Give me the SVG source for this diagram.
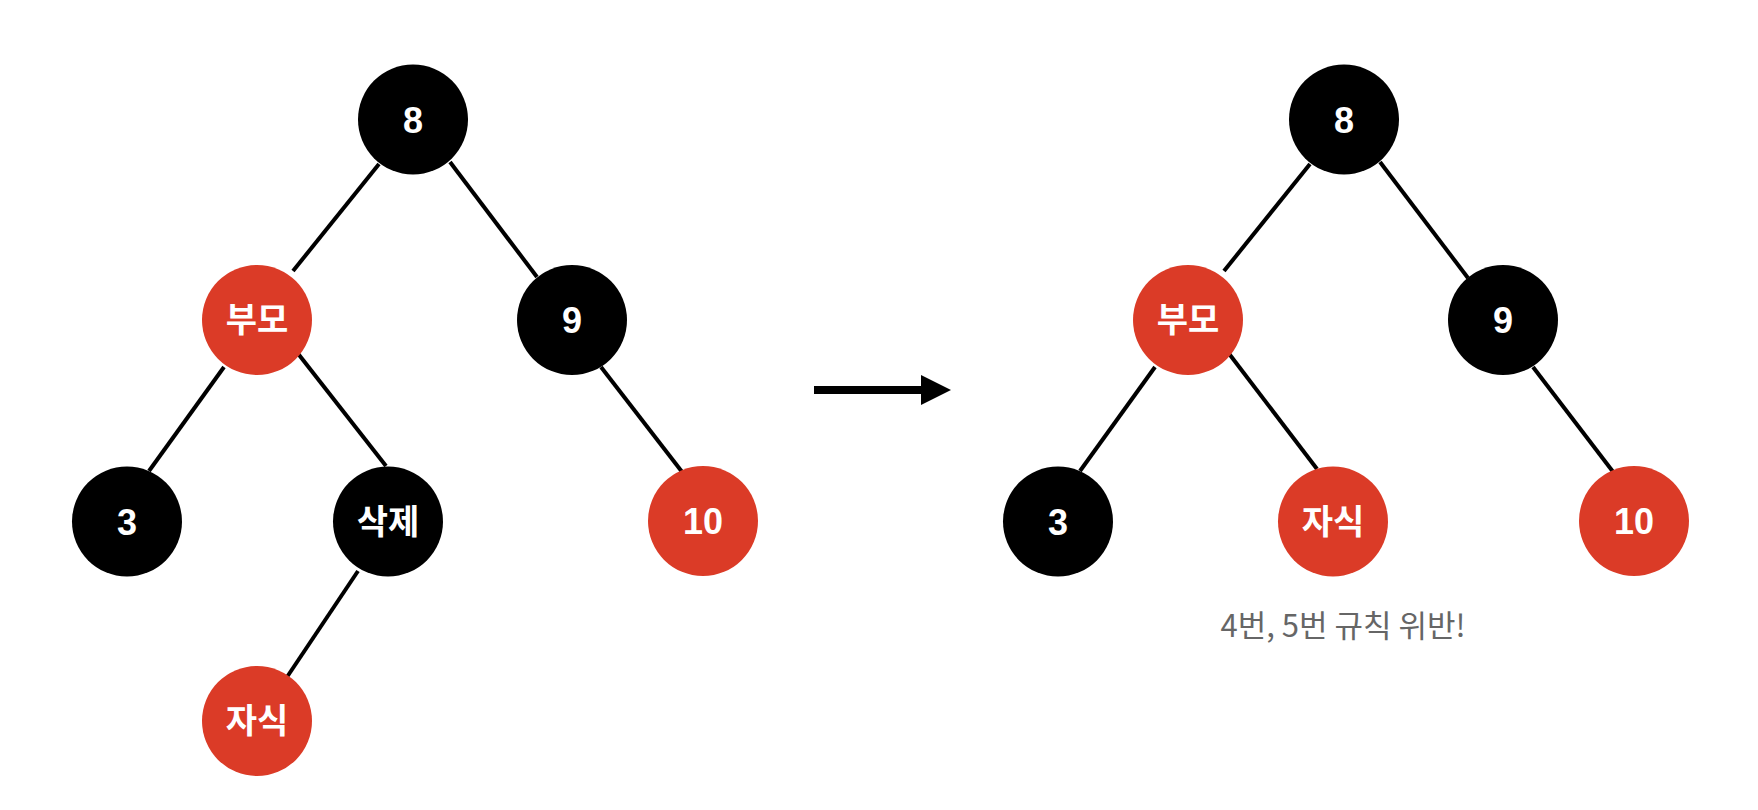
<svg xmlns="http://www.w3.org/2000/svg" width="1758" height="810" viewBox="0 0 1758 810">
<style>
.bg{fill:#ffffff}
.blk{fill:#000000}
.red{fill:#DB3B27}
.lbl{fill:#ffffff;font-family:"Liberation Sans","Noto Sans CJK KR",sans-serif;font-weight:bold;font-size:36px;text-anchor:middle}
.kr{font-family:"Noto Sans CJK KR",sans-serif;font-weight:bold;font-size:34px}
.edge{stroke:#000000;stroke-width:4;fill:none}
.note{fill:#666666;font-family:"Noto Sans CJK KR",sans-serif;font-size:31px;text-anchor:middle}
</style>
<rect class="bg" x="0" y="0" width="1758" height="810"/>
<g id="connectors">
<line class="edge" x1="379" y1="164" x2="293" y2="271"/>
<line class="edge" x1="450" y1="162" x2="537" y2="277"/>
<line class="edge" x1="224" y1="367" x2="149" y2="471"/>
<line class="edge" x1="296" y1="351" x2="386" y2="466"/>
<line class="edge" x1="601" y1="367" x2="686" y2="477"/>
<line class="edge" x1="358" y1="571" x2="287" y2="677"/>
<line class="edge" x1="1310" y1="164" x2="1224" y2="271"/>
<line class="edge" x1="1380" y1="162" x2="1468" y2="278"/>
<line class="edge" x1="1155" y1="367" x2="1080" y2="471"/>
<line class="edge" x1="1227" y1="351" x2="1317" y2="469"/>
<line class="edge" x1="1533" y1="367" x2="1617" y2="477"/>
<line x1="814" y1="390" x2="923" y2="390" stroke="#000000" stroke-width="8"/>
<polygon class="blk" points="921,375 951,390 921,405"/>
</g>
<g id="l-8"><circle class="blk" cx="413" cy="119.5" r="55"/><text class="lbl" x="413" y="132.5">8</text></g>
<g id="l-parent"><circle class="red" cx="257" cy="320" r="55"/><text class="lbl kr" x="257" y="332">부모</text></g>
<g id="l-9"><circle class="blk" cx="572" cy="320" r="55"/><text class="lbl" x="572" y="333">9</text></g>
<g id="l-3"><circle class="blk" cx="127" cy="521.5" r="55"/><text class="lbl" x="127" y="534.5">3</text></g>
<g id="l-delete"><circle class="blk" cx="388" cy="521.5" r="55"/><text class="lbl kr" x="388" y="533.5">삭제</text></g>
<g id="l-10"><circle class="red" cx="703" cy="521" r="55"/><text class="lbl" x="703" y="534">10</text></g>
<g id="l-child"><circle class="red" cx="257" cy="721" r="55"/><text class="lbl kr" x="257" y="733">자식</text></g>
<g id="r-8"><circle class="blk" cx="1344" cy="119.5" r="55"/><text class="lbl" x="1344" y="132.5">8</text></g>
<g id="r-parent"><circle class="red" cx="1188" cy="320" r="55"/><text class="lbl kr" x="1188" y="332">부모</text></g>
<g id="r-9"><circle class="blk" cx="1503" cy="320" r="55"/><text class="lbl" x="1503" y="333">9</text></g>
<g id="r-3"><circle class="blk" cx="1058" cy="521.5" r="55"/><text class="lbl" x="1058" y="534.5">3</text></g>
<g id="r-child"><circle class="red" cx="1333" cy="521.5" r="55"/><text class="lbl kr" x="1333" y="533.5">자식</text></g>
<g id="r-10"><circle class="red" cx="1634" cy="521" r="55"/><text class="lbl" x="1634" y="534">10</text></g>
<g id="note"><text class="note" x="1343" y="637">4번, 5번 규칙 위반!</text></g>
</svg>
